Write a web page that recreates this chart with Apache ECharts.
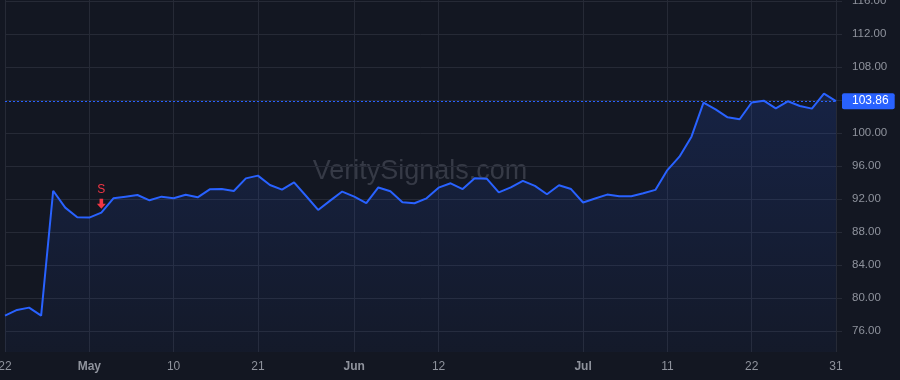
<!DOCTYPE html>
<html><head><meta charset="utf-8">
<script src="https://cdn.jsdelivr.net/npm/echarts@6/dist/echarts.min.js"></script>
<style>html,body{margin:0;padding:0;background:#131722;}#c{width:900px;height:380px;}</style>
</head><body><div id="c"></div><script>
const dates = [
 '2024-04-22','2024-04-23','2024-04-24','2024-04-25','2024-04-26','2024-04-29','2024-04-30',
 '2024-05-01','2024-05-02','2024-05-03','2024-05-06','2024-05-07','2024-05-08','2024-05-09','2024-05-10',
 '2024-05-13','2024-05-14','2024-05-15','2024-05-16','2024-05-17','2024-05-20','2024-05-21',
 '2024-05-22','2024-05-23','2024-05-24','2024-05-28','2024-05-29','2024-05-30','2024-05-31',
 '2024-06-03','2024-06-04','2024-06-05','2024-06-06','2024-06-07','2024-06-10','2024-06-11','2024-06-12',
 '2024-06-13','2024-06-14','2024-06-17','2024-06-18','2024-06-20','2024-06-21','2024-06-24','2024-06-25',
 '2024-06-26','2024-06-27','2024-06-28',
 '2024-07-01','2024-07-02','2024-07-03','2024-07-05','2024-07-08','2024-07-09','2024-07-10','2024-07-11',
 '2024-07-12','2024-07-15','2024-07-16','2024-07-17','2024-07-18','2024-07-19','2024-07-22',
 '2024-07-23','2024-07-24','2024-07-25','2024-07-26','2024-07-29','2024-07-30','2024-07-31'
];
const prices = [
 77.86,78.55,78.83,77.86,93.00,90.95,89.78,
 89.74,90.34,92.08,92.28,92.48,91.84,92.28,92.08,
 92.52,92.20,93.17,93.21,92.97,94.50,94.83,
 93.70,93.13,94.02,92.36,90.67,91.80,92.90,
 92.28,91.50,93.40,92.93,91.60,91.48,92.08,93.37,
 93.90,93.20,94.50,94.46,92.80,93.40,94.20,93.58,
 92.57,93.66,93.20,
 91.57,92.05,92.53,92.32,92.32,92.70,93.10,95.50,
 97.13,99.55,103.67,102.87,101.90,101.66,103.70,
 103.92,102.99,103.84,103.27,102.95,104.77,103.86
];
const xTickDates = ['2024-04-22','2024-05-01','2024-05-10','2024-05-21','2024-06-03','2024-06-12','2024-07-01','2024-07-11','2024-07-22','2024-07-31'];
const xTickLabels = ['22','May','10','21','Jun','12','Jul','11','22','31'];
const monthLabels = ['May','Jun','Jul'];
const yGridValues = [76,80,84,88,92,96,100,104,108,112,116];
const yLabelValues = [76,80,84,88,92,96,100,108,112,116];
const signalDates = ['2024-05-02'];
const signalLabels = ['S'];
const lastPrice = 103.86;
const watermark = 'VeritySignals.com';

const gridColor = '#262a36';
const textColor = '#8f939d';
const tickIdx = xTickDates.map(d => dates.indexOf(d));

const chart = echarts.init(document.getElementById('c'), null, {renderer:'canvas'});
chart.setOption({
  backgroundColor: '#131722',
  animation: false,
  textStyle: {fontFamily: 'Liberation Sans, Arial, sans-serif'},
  graphic: [{
    type: 'text', x: 420, y: 172, z: 0, silent: true,
    style: {text: watermark, fill: '#363a46', font: '27px "Liberation Sans", Arial, sans-serif',
      textAlign: 'center', textVerticalAlign: 'middle'}
  }],
  grid: {left: 5, right: 64, top: 0, bottom: 28, outerBoundsMode: 'none', containLabel: false},
  xAxis: {
    type: 'category', data: dates, boundaryGap: false,
    axisLine: {show: false}, axisTick: {show: false},
    axisLabel: {
      interval: (i) => tickIdx.includes(i), margin: 9, color: textColor, fontSize: 12,
      formatter: (v) => {
        const k = xTickDates.indexOf(v);
        if (k < 0) return '';
        const t = xTickLabels[k];
        return monthLabels.includes(t) ? '{b|' + t + '}' : t;
      },
      rich: {b: {fontWeight: 'bold', color: textColor, fontSize: 12}}
    },
    splitLine: {show: true, interval: (i) => tickIdx.includes(i), lineStyle: {color: gridColor, width: 1}}
  },
  yAxis: {
    type: 'value', position: 'right', min: 73.45, max: 116.12, scale: true,
    axisLine: {show: false},
    axisTick: {show: true, length: 6, lineStyle: {color: gridColor}, customValues: yGridValues},
    axisLabel: {color: textColor, fontSize: 11.5, margin: 16, customValues: yLabelValues,
      formatter: (v) => v.toFixed(2)},
    splitLine: {show: true, lineStyle: {color: gridColor, width: 1}}
  },
  series: [{
    type: 'line', data: prices, symbol: 'none', z: 3,
    lineStyle: {color: '#2962ff', width: 2},
    itemStyle: {color: '#2962ff'},
    areaStyle: {color: new echarts.graphic.LinearGradient(0,0,0,1,[
      {offset: 0, color: 'rgba(41,98,255,0.22)'},
      {offset: 1, color: 'rgba(41,98,255,0.05)'}])},
    markLine: {
      silent: true, symbol: 'none',
      lineStyle: {color: '#2962ff', type: [2,2], width: 1},
      label: {show: true, position: 'end', distance: 6, formatter: () => lastPrice.toFixed(2),
        color: '#ffffff', backgroundColor: '#2962ff', padding: [2,6,2,10], fontSize: 12,
        borderRadius: 2},
      data: [{yAxis: lastPrice}]
    },
    markPoint: {
      silent: true,
      symbol: 'path://M3,0 L7,0 L7,5 L10,5 L5,10 L0,5 L3,5 Z',
      symbolSize: [9,10], symbolOffset: [0,-9],
      itemStyle: {color: '#f23645'},
      label: {show: true, position: 'top', distance: 3, color: '#f23645', fontSize: 12,
        formatter: (p) => p.name},
      data: signalDates.map((d,k) => ({name: signalLabels[k], coord: [d, prices[dates.indexOf(d)]]}))
    }
  }]
});
</script></body></html>
